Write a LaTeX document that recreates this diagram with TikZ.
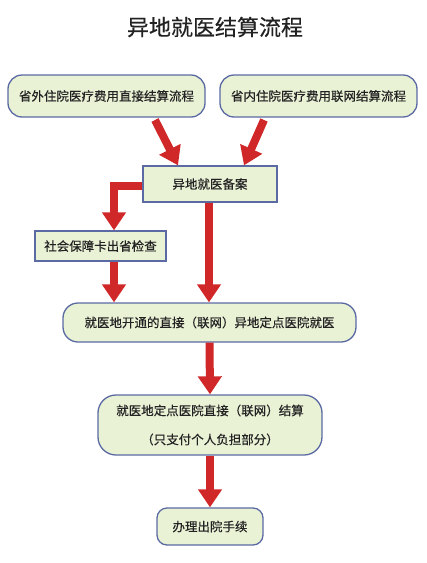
\documentclass[tikz,border=0pt]{standalone}
\usepackage{fontspec}
\setmainfont{Noto Sans CJK SC}
\newfontfamily\medfont{Noto Sans CJK SC}[FakeBold=0.4]
\usetikzlibrary{arrows.meta,calc}
\definecolor{boxfill}{HTML}{EAF2D6}
\definecolor{boxline}{HTML}{5B6AA3}
\definecolor{arrowred}{HTML}{D02828}
\definecolor{txt}{HTML}{222222}
\begin{document}
\begin{tikzpicture}[x=1pt,y=-1pt,
  box/.style={draw=boxline,fill=boxfill,line width=1.3pt,text=txt,font=\medfont\fontsize{12.5}{15}\selectfont,inner sep=0pt,align=center},
  rbox/.style={box,rounded corners=14pt},
  redarrow/.style={draw=arrowred,line width=8pt,miter limit=10,
    -{Triangle[width=23pt,length=18pt,fill=arrowred]}}]
\useasboundingbox (0,0) rectangle (427,563);
\node[text=txt,font=\medfont\fontsize{22}{26}\selectfont] (t) at (215,27) {异地就医结算流程};
\node[rbox,minimum width=197pt,minimum height=42pt] (b1) at (106.5,96) {省外住院医疗费用直接结算流程};
\node[rbox,minimum width=197pt,minimum height=42pt] (b2) at (318.5,96) {省内住院医疗费用联网结算流程};
\node[box,minimum width=134pt,minimum height=36pt] (b3) at (210,184) {异地就医备案};
\node[box,minimum width=131pt,minimum height=30pt] (b4) at (100.5,246) {社会保障卡出省检查};
\node[rbox,rounded corners=15pt,minimum width=293pt,minimum height=39pt] (b5) at (209.5,322.5) {就医地开通的直接（联网）异地定点医院就医};
\node[rbox,rounded corners=18pt,minimum width=224pt,minimum height=60pt,font=\medfont\fontsize{12.5}{29}\selectfont] (b6) at (210,425) {就医地定点医院直接（联网）结算\\（只支付个人负担部分）};
\node[rbox,rounded corners=10pt,minimum width=106pt,minimum height=37pt] (b7) at (210,526.5) {办理出院手续};
% arrows
\coordinate (a1s) at (155,120);
\coordinate (a1e) at ($(b3.north)+(-32,0)$);
\coordinate (a2s) at (264,120);
\coordinate (a2e) at ($(b3.north)+(34,0)$);
\draw[redarrow] (a1s) -- (a1e);
\draw[redarrow] (a2s) -- (a2e);
\draw[redarrow] ($(b3.west)+(0,2)$) -| ($(b4.north)+(13.5,0)$);
\draw[redarrow] ($(b4.south)+(13.5,0)$) -- ($(b4.south |- b5.north)+(13.5,0)$);
\draw[redarrow] ($(b3.south)+(-1,0)$) -- ($(b5.north)+(-0.5,0)$);
\draw[redarrow] (b5.south) -- (b6.north);
\draw[redarrow] (b6.south) -- (b7.north);
\end{tikzpicture}
\end{document}
